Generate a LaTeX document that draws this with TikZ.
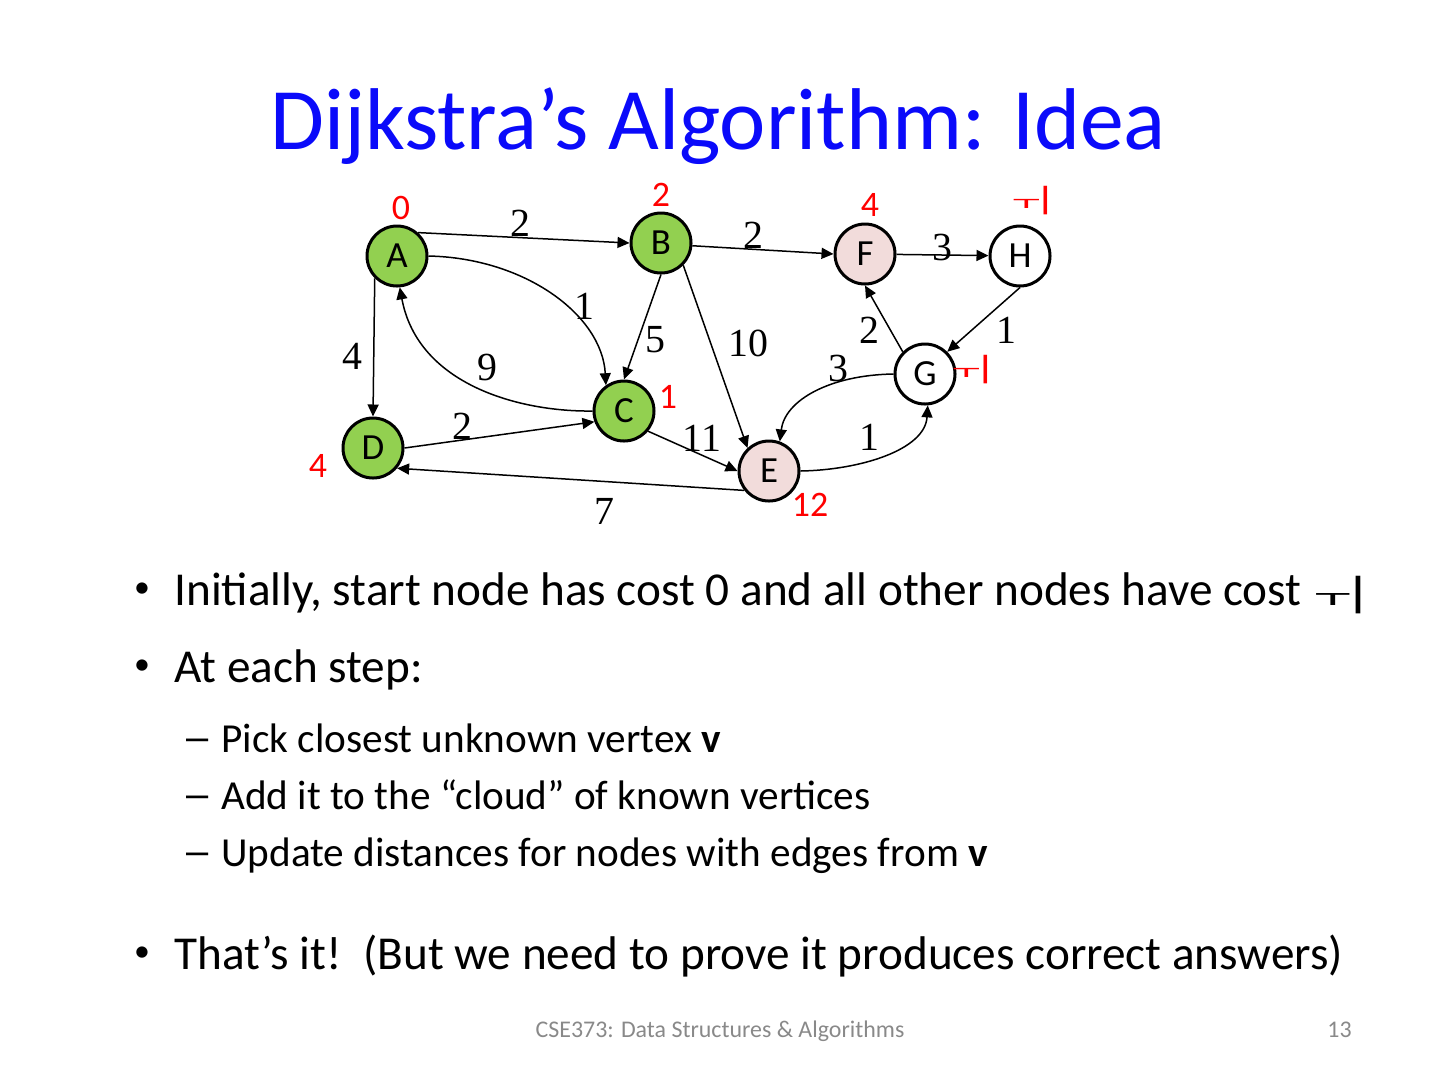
\documentclass[tikz,border=0pt]{standalone}
\usepackage{fontspec}
\usepackage{graphicx}
\setmainfont{Carlito}
\newfontfamily\serif{Liberation Serif}
\newfontfamily\dejavu{DejaVu Sans}
\newfontfamily\arialish{Liberation Sans}
\usetikzlibrary{arrows.meta}
\definecolor{ttl}{RGB}{10,10,250}
\definecolor{vgreen}{RGB}{146,208,80}
\definecolor{vpink}{RGB}{242,220,219}
\definecolor{cred}{RGB}{255,0,0}
\definecolor{foot}{RGB}{137,137,137}
\newcommand{\infg}{{\dejavu\bfseries\scalebox{0.95}[0.36]{⊤}}\kern-0.04em{\dejavu\scalebox{1}[0.85]{ǀ}}}
\begin{document}
\begin{tikzpicture}[x=0.5bp,y=-0.5bp,
  vtx/.style={circle,draw,line width=1.5bp,minimum size=30bp,inner sep=0pt,font=\fontsize{18.5}{18.5}\selectfont},
  edge/.style={line width=0.75bp,-{Triangle[length=6bp,width=5.5bp]}},
  wt/.style={font=\serif\fontsize{20}{20}\selectfont,inner sep=0pt},
  dist/.style={text=cred,font=\fontsize{18}{18}\selectfont,inner sep=0pt},
  bul/.style={inner sep=0pt,font=\fontsize{16}{16}\selectfont},
  dsh/.style={anchor=base west,inner sep=0pt,font=\arialish\fontsize{20}{20}\selectfont},
  lvla/.style={anchor=base west,inner sep=0pt,font=\fontsize{23.7}{23.7}\selectfont},
  lvlb/.style={anchor=base west,inner sep=0pt,font=\fontsize{20.7}{20.7}\selectfont}]
\useasboundingbox (0,0) rectangle (1440,1080);
\node[inner sep=0pt,text=ttl,font=\fontsize{44}{44}\selectfont,anchor=base] (title) at (718,149) {Dijkstra’s Algorithm: Idea};
% vertices
\node[vtx,fill=vgreen] (A) at (397,256) {A};
\node[vtx,fill=vgreen] (B) at (661,243) {B};
\node[vtx,fill=vgreen] (C) at (624,411) {C};
\node[vtx,fill=vgreen] (D) at (373,448) {D};
\node[vtx,fill=vpink] (E) at (769,471) {E};
\node[vtx,fill=vpink] (F) at (865,254) {F};
\node[vtx,fill=white] (H) at (1020,256) {H};
\node[vtx,fill=white] (G) at (925,374) {G};
% edges
\draw[edge] (A.48) -- (B.west);
\draw[edge] (B.-5) -- (F.west);
\draw[edge] (F) -- (H);
\draw[edge] (A.east) .. controls (525,258) and (602,315) .. (C.125);
\draw[edge] (C.west) .. controls (520,412) and (418,385) .. (A.-85);
\draw[edge] (A.-135) -- (D.north);
\draw[edge] (D.east) -- (C.200);
\draw[edge] (C.-40) -- (E.west);
\draw[edge] (E.218) -- (D.-40);
\draw[edge] (B.south) -- (C.north);
\draw[edge] (B.-45) -- (E.133);
\draw[edge] (H.south) -- (G.45);
\draw[edge] (G.135) -- (F.south);
\draw[edge] (G.west) .. controls (830,375) and (785,400) .. (E.70);
\draw[edge] (E.east) .. controls (860,470) and (925,450) .. (G.-85);
% weights
\node[wt] (wab) at (520,223) {2};
\node[wt] (wbf) at (753,235) {2};
\node[wt] (wfh) at (942,247) {3};
\node[wt] (wac) at (584,306) {1};
\node[wt] (wbc) at (655,340) {5};
\node[wt] (wbe) at (748,343) {10};
\node[wt] (wad) at (352,356) {4};
\node[wt] (wca) at (487,367) {9};
\node[wt] (wge) at (838,368) {3};
\node[wt] (wgf) at (869,330) {2};
\node[wt] (whg) at (1006,330) {1};
\node[wt] (wdc) at (462,426) {2};
\node[wt] (wce) at (702,438) {11};
\node[wt] (weg) at (869,437) {1};
\node[wt] (wed) at (604,511) {7};
% distances
\node[dist] (dA) at (401,208) {0};
\node[dist] (dB) at (661,195) {2};
\node[dist] (dF) at (870,205) {4};
\node[dist,anchor=base] (dH) at (1031,208) {\infg};
\node[dist,anchor=base] (dG) at (971,377) {\infg};
\node[dist] (dC) at (668,397) {1};
\node[dist] (dD) at (318,466) {4};
\node[dist] (dE) at (810,505) {12};
% bullets
\node[bul] (b1) at (142,590) {•};
\node[lvla] (t1) at (174,605) {Initially, start node has cost 0 and all other nodes have cost \infg};
\node[bul] (b2) at (142,667) {•};
\node[lvla] (t2) at (174,682) {At each step:};
\node[dsh] (s1d) at (186,750) {–};
\node[lvlb] (s1) at (221,752) {Pick closest unknown vertex \textbf{v}};
\node[dsh] (s2d) at (186,807) {–};
\node[lvlb] (s2) at (221,809) {Add it to the “cloud” of known vertices};
\node[dsh] (s3d) at (186,864) {–};
\node[lvlb] (s3) at (221,866) {Update distances for nodes with edges from \textbf{v}};
\node[bul] (b3) at (142,954) {•};
\node[lvla] (t3) at (174,969) {That’s it!\ \ (But we need to prove it produces correct answers)};
% footer
\node[inner sep=0pt,text=foot,font=\fontsize{12}{12}\selectfont,anchor=base] (foot) at (720,1037) {CSE373: Data Structures \& Algorithms};
\node[inner sep=0pt,text=foot,font=\fontsize{12}{12}\selectfont,anchor=base east] (pg) at (1352,1037) {13};
\end{tikzpicture}
\end{document}
